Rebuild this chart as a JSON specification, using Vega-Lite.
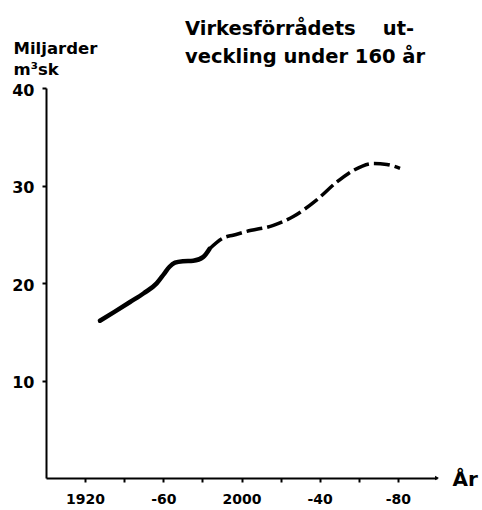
{
  "$schema": "https://vega.github.io/schema/vega-lite/v6.json",
  "width": 391,
  "height": 390,
  "autosize": {"type": "none"},
  "padding": {"left": 46, "top": 88, "right": 45, "bottom": 32},
  "background": "white",
  "config": {"view": {"stroke": null}, "font": "DejaVu Sans"},
  "title": {
    "text": ["Virkesförrådets\u00a0\u00a0\u00a0\u00a0ut-", "veckling under 160 år"],
    "anchor": "start",
    "frame": "group",
    "dx": 139,
    "offset": -27,
    "fontSize": 19.5,
    "fontWeight": "bold",
    "lineHeight": 28,
    "color": "black"
  },
  "datasets": {
    "curve": [
      {"year": 1927.6, "value": 16.13, "part": "solid"},
      {"year": 1935.0, "value": 17.04, "part": "solid"},
      {"year": 1943.0, "value": 18.05, "part": "solid"},
      {"year": 1950.0, "value": 18.95, "part": "solid"},
      {"year": 1956.6, "value": 19.96, "part": "solid"},
      {"year": 1960.5, "value": 20.97, "part": "solid"},
      {"year": 1963.2, "value": 21.67, "part": "solid"},
      {"year": 1966.0, "value": 22.08, "part": "solid"},
      {"year": 1970.0, "value": 22.23, "part": "solid"},
      {"year": 1975.3, "value": 22.28, "part": "solid"},
      {"year": 1980.5, "value": 22.68, "part": "solid"},
      {"year": 1983.6, "value": 23.49, "part": "solid"},
      {"year": 1983.6, "value": 23.49, "part": "dashed"},
      {"year": 1991.6, "value": 24.7, "part": "dashed"},
      {"year": 1995.7, "value": 24.9, "part": "dashed"},
      {"year": 2002.7, "value": 25.3, "part": "dashed"},
      {"year": 2016.3, "value": 25.91, "part": "dashed"},
      {"year": 2026.5, "value": 26.82, "part": "dashed"},
      {"year": 2038.5, "value": 28.53, "part": "dashed"},
      {"year": 2048.7, "value": 30.35, "part": "dashed"},
      {"year": 2057.2, "value": 31.55, "part": "dashed"},
      {"year": 2067.4, "value": 32.26, "part": "dashed"},
      {"year": 2074.3, "value": 32.16, "part": "dashed"},
      {"year": 2081.1, "value": 31.76, "part": "dashed"}
    ],
    "arrow": [{"year": 2100, "value": 0}]
  },
  "layer": [
    {
      "data": {"name": "curve"},
      "transform": [{"filter": "datum.part === 'solid'"}],
      "mark": {"type": "line", "interpolate": "monotone", "color": "black", "strokeWidth": 4.5, "strokeCap": "round"},
      "encoding": {
        "x": {
          "field": "year", "type": "quantitative",
          "scale": {"domain": [1900, 2100], "nice": false, "zero": false},
          "axis": {
            "values": [1920, 1940, 1960, 1980, 2000, 2020, 2040, 2060, 2080],
            "labelExpr": "datum.value == 1920 ? '1920' : datum.value == 1960 ? '-60' : datum.value == 2000 ? '2000' : datum.value == 2040 ? '-40' : datum.value == 2080 ? '-80' : ''",
            "grid": false,
            "domainColor": "black", "domainWidth": 2,
            "tickColor": "black", "tickWidth": 2, "tickSize": 4,
            "labelFont": "DejaVu Sans", "labelFontSize": 14, "labelFontWeight": "bold", "labelColor": "black",
            "labelPadding": 10,
            "title": "År",
            "titleFont": "DejaVu Sans", "titleFontSize": 20, "titleFontWeight": "bold", "titleColor": "black",
            "titleAnchor": "start", "titleAlign": "left", "titleBaseline": "alphabetic",
            "titleX": 406, "titleY": 7
          }
        },
        "y": {
          "field": "value", "type": "quantitative",
          "scale": {"domain": [0, 40], "nice": false},
          "axis": {
            "values": [10, 20, 30, 40],
            "grid": false,
            "domainColor": "black", "domainWidth": 2,
            "tickColor": "black", "tickWidth": 2, "tickSize": 4,
            "labelFont": "DejaVu Sans", "labelFontSize": 16, "labelFontWeight": "bold", "labelColor": "black",
            "labelPadding": 8, "labelOffset": 2,
            "title": ["Miljarder", "m³sk"],
            "titleFont": "DejaVu Sans", "titleFontSize": 16.5, "titleFontWeight": "bold", "titleColor": "black",
            "titleAngle": 0, "titleAlign": "left", "titleBaseline": "alphabetic", "titleLineHeight": 21,
            "titleX": -33, "titleY": -35
          }
        }
      }
    },
    {
      "data": {"name": "curve"},
      "transform": [{"filter": "datum.part === 'dashed'"}],
      "mark": {"type": "line", "interpolate": "monotone", "color": "black", "strokeWidth": 3.5, "strokeDash": [16, 5]},
      "encoding": {
        "x": {"field": "year", "type": "quantitative"},
        "y": {"field": "value", "type": "quantitative"}
      }
    },
    {
      "data": {"name": "arrow"},
      "mark": {"type": "point", "shape": "triangle-right", "filled": true, "color": "black", "size": 20, "opacity": 1},
      "encoding": {
        "x": {"field": "year", "type": "quantitative"},
        "y": {"field": "value", "type": "quantitative"}
      }
    }
  ]
}
